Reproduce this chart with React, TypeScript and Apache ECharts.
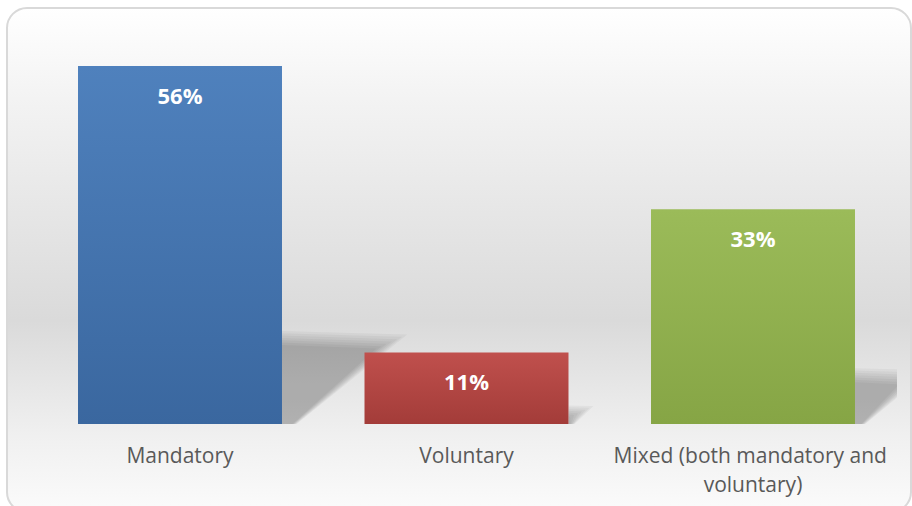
import React, { useEffect, useRef } from "react";
import * as echarts from "echarts";

const categories = ["Mandatory", "Voluntary", "Mixed (both mandatory and voluntary)"];
const shares = [55.56, 11.11, 33.33];
const topColors = ["#4f81bd", "#c0504d", "#9bbb59"];
const bottomColors = ["#3a679f", "#a33c39", "#86a545"];

const FONT = "'Open Sans', 'Noto Sans', sans-serif";
const BAR_RATIO = 0.712;

export default function App() {
  const ref = useRef<HTMLDivElement>(null);
  useEffect(() => {
    if (!ref.current) return;
    const chart = echarts.init(ref.current, null, { renderer: "svg" });
    chart.setOption({
      animation: false,
      backgroundColor: "#ffffff",
      graphic: [
        {
          type: "rect",
          z: -10,
          silent: true,
          shape: { x: 7, y: 8, width: 904, height: 504, r: 20 },
          style: {
            stroke: "#d9d9d9",
            lineWidth: 2,
            fill: new echarts.graphic.LinearGradient(0, 0, 0, 1, [
              { offset: 0, color: "#ffffff" },
              { offset: 0.18, color: "#f3f3f3" },
              { offset: 0.62, color: "#dadada" },
              { offset: 0.85, color: "#f0f0f0" },
              { offset: 1, color: "#fbfbfb" },
            ]),
          },
        },
      ],
      grid: { left: 36.75, right: 15.75, top: 37.4, bottom: 82, containLabel: false },
      xAxis: {
        type: "category",
        data: categories,
        axisLine: { show: false },
        axisTick: { show: false },
        axisLabel: {
          interval: 0,
          margin: 16,
          color: "#595959",
          fontFamily: FONT,
          fontSize: 21,
          lineHeight: 29,
          width: 286,
          overflow: "break",
        },
      },
      yAxis: {
        type: "value",
        min: 0,
        max: 60,
        show: false,
        splitLine: { show: false },
      },
      series: [
        {
          type: "custom",
          z: 1,
          silent: true,
          clip: true,
          data: shares.map((v, i) => [i, v]),
          renderItem: (params: any, api: any) => {
            const idx = api.value(0);
            const v = api.value(1);
            const top = api.coord([idx, v]);
            const base = api.coord([idx, 0]);
            const bw = api.size([1, 0])[0] * BAR_RATIO;
            const x0 = base[0] + bw / 2;
            const yb = base[1];
            const h = yb - top[1];
            const layers = 7;
            const children = [];
            for (let k = 0; k < layers; k++) {
              const t = k / (layers - 1);
              const soft = Math.min(14, 0.12 * h + 2);
              const topY = yb - 0.26 * h + t * soft;
              const rightX = x0 + 0.35 * h - t * soft * 2.2;
              const footX = x0 + 0.03 * h + 4 - t * 4;
              children.push({
                type: "polygon",
                shape: {
                  points: [
                    [x0, yb],
                    [x0, topY],
                    [rightX, topY + 0.01 * h],
                    [footX, yb],
                  ],
                },
                style: { fill: "rgba(0,0,0,0.04)" },
              });
            }
            return { type: "group", children };
          },
        },
        {
          type: "bar",
          z: 2,
          barWidth: BAR_RATIO * 100 + "%",
          data: shares.map((v, i) => ({
            value: v,
            itemStyle: {
              color: new echarts.graphic.LinearGradient(0, 0, 0, 1, [
                { offset: 0, color: topColors[i] },
                { offset: 1, color: bottomColors[i] },
              ]),
            },
          })),
          label: {
            show: true,
            position: "insideTop",
            distance: 18,
            color: "#ffffff",
            fontFamily: FONT,
            fontWeight: "bold",
            fontSize: 22,
            lineHeight: 22,
            formatter: (p: any) => Math.round(p.value) + "%",
          },
        },
      ],
    });
    return () => chart.dispose();
  }, []);
  return <div ref={ref} style={{ width: 912, height: 506, position: "absolute", left: 0, top: 0 }} />;
}
